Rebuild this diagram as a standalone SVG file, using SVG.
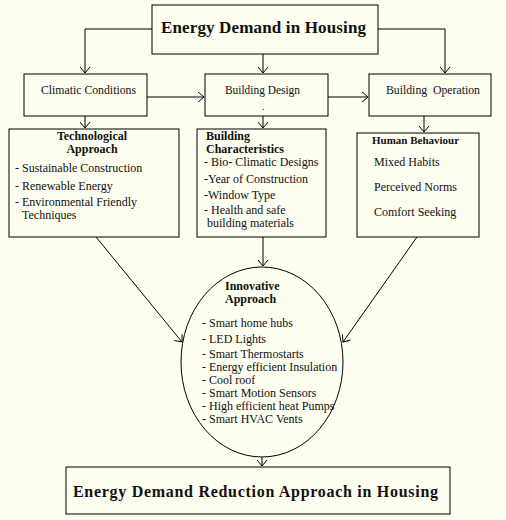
<svg xmlns="http://www.w3.org/2000/svg" width="506" height="520" viewBox="0 0 506 520">
<defs>
<marker id="arr" markerUnits="userSpaceOnUse" markerWidth="12" markerHeight="12" refX="7" refY="5" orient="auto" viewBox="0 0 12 10">
<path d="M1,0 L7,5 L1,10" fill="none" stroke="#000" stroke-width="1"/>
</marker>
<style>
.box{fill:#fdfdf0;stroke:#000;stroke-width:1}
.t{font-family:"Liberation Serif","DejaVu Serif",serif;fill:#111;font-size:12px}
.b{font-weight:bold}
.c{text-anchor:middle}
.con{fill:none;stroke:#000;stroke-width:1}
</style>
</defs>
<rect width="506" height="520" fill="#fdfdf0"/>
<g id="connectors">
<polyline class="con" points="152,29 85,29 85,73" marker-end="url(#arr)"/>
<line class="con" x1="263" y1="54" x2="263" y2="73" marker-end="url(#arr)"/>
<polyline class="con" points="378,29 445,29 445,73" marker-end="url(#arr)"/>
<line class="con" x1="147" y1="97" x2="204" y2="97" marker-end="url(#arr)"/>
<line class="con" x1="328" y1="97" x2="368" y2="97" marker-end="url(#arr)"/>
<line class="con" x1="85" y1="116" x2="85" y2="128" marker-end="url(#arr)"/>
<line class="con" x1="263" y1="116" x2="263" y2="128" marker-end="url(#arr)"/>
<line class="con" x1="424" y1="116" x2="424" y2="132" marker-end="url(#arr)"/>
<line class="con" x1="263" y1="237" x2="263" y2="266" marker-end="url(#arr)"/>
<line class="con" x1="96" y1="237" x2="182" y2="342" marker-end="url(#arr)"/>
<line class="con" x1="417" y1="237" x2="343" y2="342" marker-end="url(#arr)"/>
<line class="con" x1="262" y1="457" x2="262" y2="466" marker-end="url(#arr)"/>
</g>
<g id="energy-demand">
<rect class="box" x="152" y="5" width="226" height="49"/>
<text class="t b" x="161" y="33" style="font-size:17px" textLength="205" lengthAdjust="spacing">Energy Demand in Housing</text>
</g>
<g id="climatic">
<rect class="box" x="24" y="74" width="123" height="42"/>
<text class="t" x="41" y="94" textLength="95" lengthAdjust="spacingAndGlyphs">Climatic Conditions</text>
</g>
<g id="design">
<rect class="box" x="205" y="74" width="123" height="42"/>
<text class="t" x="225" y="94" textLength="75" lengthAdjust="spacingAndGlyphs">Building Design</text>
<text class="t" x="262" y="110" style="font-size:10px">.</text>
</g>
<g id="operation">
<rect class="box" x="369" y="74" width="122" height="42"/>
<text class="t" x="386" y="94" textLength="94" lengthAdjust="spacingAndGlyphs" xml:space="preserve">Building  Operation</text>
</g>
<g id="technological">
<rect class="box" x="9" y="129" width="170" height="108"/>
<text class="t b c" x="92" y="140">Technological</text>
<text class="t b c" x="92" y="153">Approach</text>
<text class="t" x="15" y="172">- Sustainable Construction</text>
<text class="t" x="15" y="190">- Renewable Energy</text>
<text class="t" x="15" y="206">- Environmental Friendly</text>
<text class="t" x="22" y="219">Techniques</text>
</g>
<g id="characteristics">
<rect class="box" x="197" y="129" width="129" height="108"/>
<text class="t b" x="206" y="140">Building</text>
<text class="t b" x="206" y="153">Characteristics</text>
<text class="t" x="204" y="166">- Bio- Climatic Designs</text>
<text class="t" x="204" y="183">-Year of Construction</text>
<text class="t" x="204" y="199">-Window Type</text>
<text class="t" x="204" y="214">- Health and safe</text>
<text class="t" x="207" y="227">building materials</text>
</g>
<g id="human">
<rect class="box" x="357" y="133" width="122" height="104"/>
<text class="t b" x="372" y="144" style="font-size:11px">Human Behaviour</text>
<text class="t" x="374" y="166">Mixed Habits</text>
<text class="t" x="374" y="191">Perceived Norms</text>
<text class="t" x="374" y="216">Comfort Seeking</text>
</g>
<g id="innovative">
<ellipse class="box" cx="262" cy="362" rx="81" ry="95"/>
<text class="t b" x="225" y="290">Innovative</text>
<text class="t b" x="225" y="303">Approach</text>
<text class="t" x="202" y="327">- Smart home hubs</text>
<text class="t" x="202" y="343">- LED Lights</text>
<text class="t" x="202" y="358">- Smart Thermostarts</text>
<text class="t" x="202" y="371">- Energy efficient Insulation</text>
<text class="t" x="202" y="384">- Cool roof</text>
<text class="t" x="202" y="397">- Smart Motion Sensors</text>
<text class="t" x="202" y="410">- High efficient heat Pumps</text>
<text class="t" x="202" y="423">- Smart HVAC Vents</text>
</g>
<g id="reduction">
<rect class="box" x="66" y="467" width="384" height="47"/>
<text class="t b" x="73" y="497" style="font-size:16px" textLength="365" lengthAdjust="spacing">Energy Demand Reduction Approach in Housing</text>
</g>
</svg>
